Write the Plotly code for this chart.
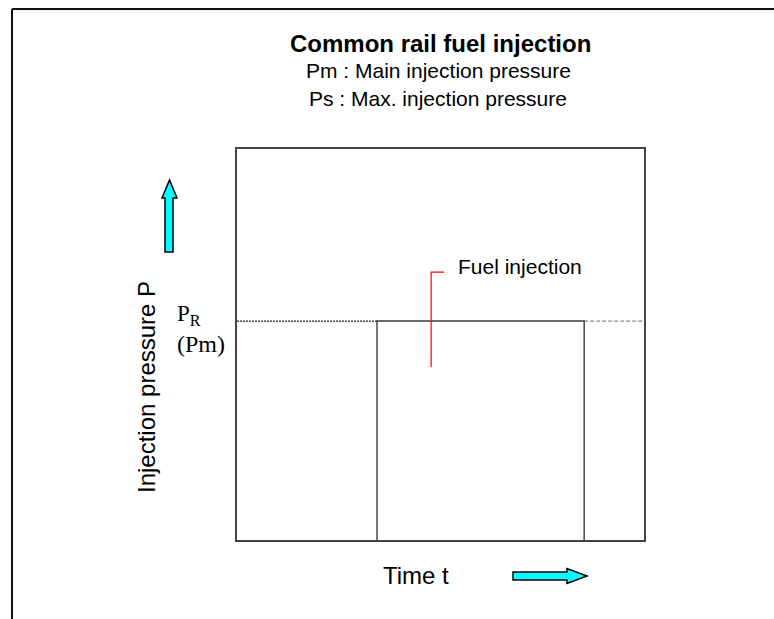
import plotly.graph_objects as go

# Figure size and plot box (pixels)
W, H = 774, 619
L, R, T, B = 237, 644, 149, 540

# Data (arbitrary units on both axes, range 0..10)
time_range = [0, 10]
pressure_range = [0, 10]
rail_pressure = 5.6          # P_R (Pm)
t_start, t_end = 3.44, 8.53  # injection window
pulse_t = [t_start, t_start, t_end, t_end]
pulse_p = [0, rail_pressure, rail_pressure, 0]
rail_left_t = [0, t_start]
rail_right_t = [t_end, 10]
inj_marker_t = [5.09, 4.77, 4.77]
inj_marker_p = [6.85, 6.85, 4.42]


def px(x):
    return (x - L) / (R - L)


def py(y):
    return (B - y) / (B - T)


SANS = "Liberation Sans, Arial, sans-serif"
SERIF = "Liberation Serif, Times New Roman, serif"

fig = go.Figure()

# rail pressure level before / after injection
fig.add_trace(go.Scatter(x=rail_left_t, y=[rail_pressure] * 2, mode="lines",
                         line=dict(color="#222222", width=1.3, dash="2px,1px"),
                         hoverinfo="skip"))
fig.add_trace(go.Scatter(x=rail_right_t, y=[rail_pressure] * 2, mode="lines",
                         line=dict(color="#888888", width=1.3, dash="4px,2px"),
                         hoverinfo="skip"))
# injection pulse
fig.add_trace(go.Scatter(x=pulse_t, y=pulse_p, mode="lines",
                         line=dict(color="#3a3a3a", width=1.4),
                         hoverinfo="skip"))
# fuel injection marker
fig.add_trace(go.Scatter(x=inj_marker_t, y=inj_marker_p, mode="lines",
                         line=dict(color="#ff0000", width=1.2),
                         hoverinfo="skip"))

axis_common = dict(showticklabels=False, ticks="", showgrid=False,
                   zeroline=False, showline=True, mirror=True,
                   linecolor="#444444", linewidth=1.6, fixedrange=True)

fig.update_layout(
    width=W, height=H, autosize=False,
    margin=dict(l=L, r=W - R, t=T, b=H - B, pad=0),
    paper_bgcolor="white", plot_bgcolor="white",
    showlegend=False,
    xaxis=dict(range=time_range, **axis_common),
    yaxis=dict(range=pressure_range, **axis_common),
)

# outer frame (left and top edges)
fig.add_shape(type="line", xref="paper", yref="paper",
              x0=px(12), y0=py(625), x1=px(12), y1=py(9),
              line=dict(color="#111111", width=2))
fig.add_shape(type="line", xref="paper", yref="paper",
              x0=px(12), y0=py(9), x1=px(780), y1=py(9),
              line=dict(color="#111111", width=2))

# up arrow (pressure direction)
up = [(165, 252), (165, 198), (162, 198), (169.5, 180), (177, 198),
      (173, 198), (173, 252)]
fig.add_shape(type="path", xref="paper", yref="paper",
              path="M " + " L ".join(f"{px(x)},{py(y)}" for x, y in up) + " Z",
              fillcolor="#00ffff", line=dict(color="#000000", width=1.5))
# right arrow (time direction)
right = [(513, 572), (567, 572), (567, 568.5), (587, 576), (567, 583.5),
         (567, 580), (513, 580)]
fig.add_shape(type="path", xref="paper", yref="paper",
              path="M " + " L ".join(f"{px(x)},{py(y)}" for x, y in right) + " Z",
              fillcolor="#00ffff", line=dict(color="#000000", width=1.5))


def label(text, x, y, size, family=SANS, xanchor="center", yanchor="middle",
          angle=0, color="#000000"):
    fig.add_annotation(text=text, x=px(x), y=py(y), xref="paper", yref="paper",
                       showarrow=False, xanchor=xanchor, yanchor=yanchor,
                       textangle=angle,
                       font=dict(family=family, size=size, color=color))


label("<b>Common rail fuel injection</b>", 440, 44, 24)
label("Pm : Main injection pressure", 438, 71, 21)
label("Ps : Max. injection pressure", 438, 98, 21)
label("Fuel injection", 456, 266, 21, xanchor="left")
label("Time t", 416, 575, 24)
label("Injection pressure P", 146, 387, 24, angle=-90)
label("P<sub>R</sub>", 175, 315, 23, family=SERIF, xanchor="left")
label("(Pm)", 175, 344, 24, family=SERIF, xanchor="left")

fig.write_html("out.html")
